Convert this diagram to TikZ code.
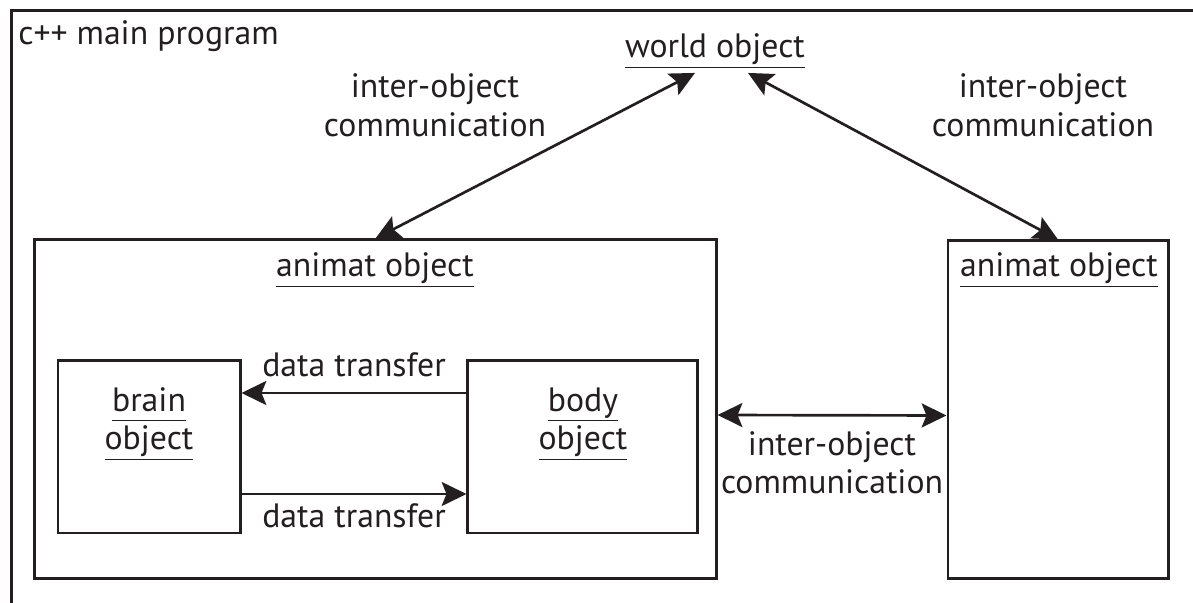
\documentclass[tikz,border=0pt]{standalone}
\usepackage{fontspec}
\setmainfont{PT Sans}
\usetikzlibrary{arrows.meta,positioning}
\definecolor{ink}{HTML}{231F20}
\newcommand{\objname}[1]{\underline{#1\vphantom{jy}}}

\begin{document}
\begin{tikzpicture}[
        x=0.025cm, y=-0.025cm,
        font=\fontsize{24}{27.5}\selectfont,
        every node/.style={text=ink},
        box/.style={rectangle, draw=ink, line width=2.1pt},
        title/.style={anchor=base},
        txt/.style={align=center, inner sep=0pt},
        link/.style={draw=ink, line width=1.9pt, -{Stealth[length=0.62cm, width=0.6cm, inset=0.12cm]}},
        dlink/.style={draw=ink, line width=1.9pt, {Stealth[length=0.62cm, width=0.6cm, inset=0.12cm]}-{Stealth[length=0.62cm, width=0.6cm, inset=0.12cm]}}
    ]
    \useasboundingbox (0,0) rectangle (1193,603);

    % Program frame (runs off the page)
    \node[box, anchor=north west, minimum width=31cm, minimum height=16cm] (main) at (10,9) {};
    \node[anchor=base west, inner sep=0pt] (prog) at (18,45) {c++ main program};

    % Objects
    \node[title] (world) at (715,58) {\objname{world object}};
    \node[box, minimum width=17.025cm, minimum height=8.45cm] (animat) at (375.5,409) {};
    \node[box, minimum width=5.5cm, minimum height=8.425cm] (animat2) at (1058,409.5) {};
    \node[box, minimum width=4.55cm, minimum height=4.3cm] (brain) at (149,447) {};
    \node[box, minimum width=5.725cm, minimum height=4.3cm] (body) at (582.5,447) {};

    % Titles
    \node[title] (animattitle) at (375,277) {\objname{animat object}};
    \node[title] (animat2title) at (1059,277) {\objname{animat object}};
    \node[txt, anchor=north] (braintitle) at (149,387) {\objname{brain}\\\objname{object}};
    \node[txt, anchor=north] (bodytitle) at (583,387) {\objname{body}\\\objname{object}};

    % Communication
    \draw[dlink] (animat.north) -- ([xshift=-0.5cm]world.south);
    \draw[dlink] ([xshift=0.825cm]world.south) -- (animat2.north);
    \node[txt] (leftcomm) at (435,105) {inter-object\\communication};
    \node[txt] (rightcomm) at (1043,105) {inter-object\\communication};
    \draw[dlink] ([yshift=-0.15cm]animat.east) -- node[below=0.25cm, align=center] (midcomm) {inter-object\\communication} ([yshift=-0.15cm]animat2.west);

    % Data transfer
    \draw[link] ([yshift=1.35cm]body.west) -- node[above=0.25cm] (toptransfer) {data transfer} ([yshift=1.35cm]brain.east);
    \draw[link] ([yshift=-1.175cm]brain.east) -- node[below=0.1cm] (bottransfer) {data transfer} ([yshift=-1.175cm]body.west);

\end{tikzpicture}
\end{document}
